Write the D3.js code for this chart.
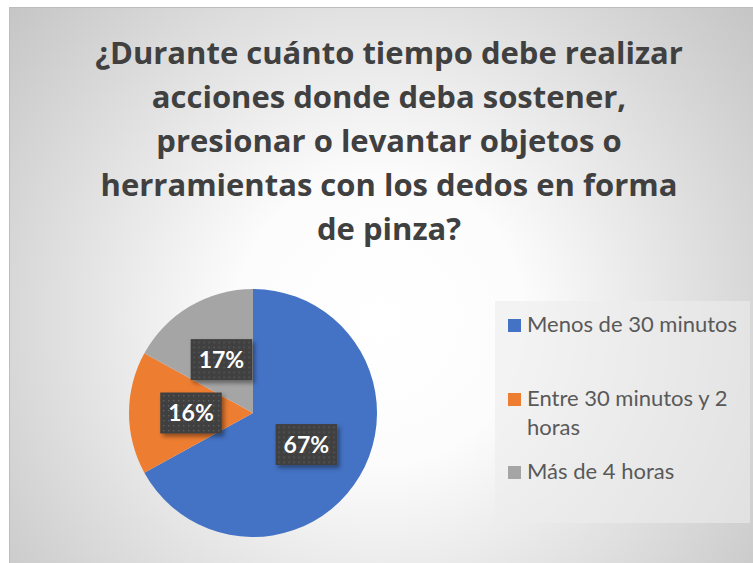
<!DOCTYPE html>
<html>
<head>
<meta charset="utf-8">
<script src="https://cdn.jsdelivr.net/npm/d3@7"></script>
<style>
  html, body { margin: 0; padding: 0; background: #ffffff; }
  svg { display: block; }
  .title { font-family: "Open Sans", Lato, sans-serif; font-weight: 700; fill: #404040; }
  .legend text { font-family: Lato, "Open Sans", sans-serif; fill: #595959; }
  .data-label { font-family: Lato, "Open Sans", sans-serif; font-weight: 700; fill: #ffffff; }
</style>
</head>
<body>
<div id="chart"></div>
<script>
(function () {
  "use strict";

  // Data
  const categories = ["Menos de 30 minutos", "Entre 30 minutos y 2 horas", "Más de 4 horas"];
  const values     = [67, 16, 17];
  const colors     = ["#4472C4", "#ED7D31", "#A5A5A5"];
  const titleLines = [
    "¿Durante cuánto tiempo debe realizar",
    "acciones donde deba sostener,",
    "presionar o levantar objetos o",
    "herramientas con los dedos en forma",
    "de pinza?"
  ];
  // legend labels, wrapped the way the original shows them
  const legendLines = [
    ["Menos de 30 minutos"],
    ["Entre 30 minutos y 2", "horas"],
    ["Más de 4 horas"]
  ];

  // Dimensions
  const totalW = 753;
  const totalH = 563;
  const cx = 253, cy = 413, radius = 124;

  const svg = d3.select("#chart")
    .append("svg")
    .attr("width", totalW)
    .attr("height", totalH);

  const defs = svg.append("defs");

  // Chart area background: radial gradient, white centre to grey edges
  const bg = defs.append("radialGradient")
    .attr("id", "bgGrad")
    .attr("gradientUnits", "userSpaceOnUse")
    .attr("cx", 380).attr("cy", 320).attr("r", 480);
  bg.append("stop").attr("offset", "0").attr("stop-color", "#ffffff");
  bg.append("stop").attr("offset", "0.3").attr("stop-color", "#fcfcfc");
  bg.append("stop").attr("offset", "1").attr("stop-color", "#c6c6c6");

  // dotted fill used by the data labels
  const pat = defs.append("pattern")
    .attr("id", "dots")
    .attr("patternUnits", "userSpaceOnUse")
    .attr("width", 5).attr("height", 5);
  pat.append("rect").attr("width", 5).attr("height", 5).attr("fill", "#404040");
  pat.append("rect").attr("x", 2).attr("y", 2).attr("width", 1.4).attr("height", 1.4).attr("fill", "#5e5e5e");

  const shadow = defs.append("filter")
    .attr("id", "shadow")
    .attr("x", "-30%").attr("y", "-30%")
    .attr("width", "160%").attr("height", "160%");
  shadow.append("feDropShadow")
    .attr("dx", 2.5).attr("dy", 3)
    .attr("stdDeviation", 2.2)
    .attr("flood-color", "#000")
    .attr("flood-opacity", 0.4);

  svg.append("rect")
    .attr("x", 9.5).attr("y", 7.5)
    .attr("width", totalW + 10).attr("height", totalH + 10)
    .attr("fill", "url(#bgGrad)")
    .attr("stroke", "#bdbdbd")
    .attr("stroke-width", 1);

  // Title
  const title = svg.append("text")
    .attr("class", "title")
    .attr("text-anchor", "middle")
    .attr("font-size", 31);
  titleLines.forEach((line, i) => {
    title.append("tspan")
      .attr("x", 389)
      .attr("y", 64 + i * 44)
      .text(line);
  });

  // Pie
  const pie = d3.pie().sort(null).value(d => d)
    .startAngle(0).endAngle(2 * Math.PI);
  const arcs = pie(values);
  const arc = d3.arc().innerRadius(0).outerRadius(radius);
  const total = d3.sum(values);

  const g = svg.append("g")
    .attr("transform", `translate(${cx},${cy})`);

  g.selectAll(".slice")
    .data(arcs)
    .join("path")
    .attr("class", "slice")
    .attr("d", arc)
    .attr("fill", (d, i) => colors[i]);

  // Data labels
  const labels = g.selectAll(".label")
    .data(arcs)
    .join("g")
    .attr("class", "label")
    .attr("transform", d => `translate(${arc.centroid(d)})`);

  labels.each(function (d) {
    const lg = d3.select(this);
    const box = lg.append("rect").attr("fill", "url(#dots)").attr("filter", "url(#shadow)");
    const t = lg.append("text")
      .attr("class", "data-label")
      .attr("text-anchor", "middle")
      .attr("dy", "0.36em")
      .attr("font-size", 23)
      .text(Math.round(d.value / total * 100) + "%");
    const w = t.node().getComputedTextLength() + 16;
    const h = 41;
    box.attr("x", -w / 2).attr("y", -h / 2).attr("width", w).attr("height", h);
  });

  // Legend
  svg.append("rect")
    .attr("x", 495).attr("y", 301)
    .attr("width", 255).attr("height", 222)
    .attr("fill", "#ececec")
    .attr("fill-opacity", 0.6);

  const legendY = [332, 406, 479];
  const legend = svg.append("g").attr("class", "legend");

  categories.forEach((cat, i) => {
    const item = legend.append("g")
      .attr("transform", `translate(508,${legendY[i]})`);
    item.append("rect")
      .attr("x", 0).attr("y", -13)
      .attr("width", 13).attr("height", 13)
      .attr("fill", colors[i]);
    const t = item.append("text").attr("font-size", 22);
    legendLines[i].forEach((line, j) => {
      t.append("tspan").attr("x", 19).attr("y", j * 29).text(line);
    });
  });

})();
</script>
</body>
</html>
